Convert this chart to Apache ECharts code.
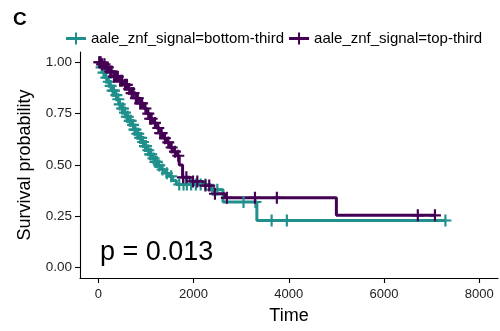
<!DOCTYPE html>
<html>
<head>
<meta charset="utf-8">
<script src="https://cdn.jsdelivr.net/npm/echarts@6/dist/echarts.min.js"></script>
<style>
html,body{margin:0;padding:0;background:#fff;}
#chart{width:500px;height:331px;}
</style>
</head>
<body>
<div id="chart"></div>
<script>
// ---- data ----
const seriesNames = ['aale_znf_signal=bottom-third', 'aale_znf_signal=top-third'];
const seriesColors = ['#21908C', '#440154'];

// bottom-third: time of each drop and survival after it
const tealTime = [0, 40, 90, 140, 190, 240, 290, 340, 390, 440, 490, 540, 590, 640, 700, 750, 800, 860, 910, 960, 1010, 1070, 1130, 1190, 1250, 1320, 1400, 1480, 1560, 1640, 2350, 2620, 3330];
const tealSurv = [1, 0.975, 0.95, 0.925, 0.905, 0.885, 0.862, 0.84, 0.82, 0.795, 0.775, 0.755, 0.735, 0.715, 0.695, 0.672, 0.652, 0.632, 0.612, 0.592, 0.572, 0.552, 0.532, 0.515, 0.498, 0.478, 0.46, 0.445, 0.425, 0.405, 0.38, 0.32, 0.23];
const tealEnd = 7290;
const tealCensor = [30, 70, 110, 170, 220, 260, 300, 330, 380, 420, 450, 500, 520, 560, 600, 620, 660, 680, 730, 760, 780, 820, 840, 880, 900, 940, 980, 1000, 1050, 1090, 1110, 1160, 1200, 1230, 1280, 1350, 1440, 1530, 1700, 1790, 1860, 1950, 2050, 2150, 2250, 2400, 2500, 3050, 3300, 3640, 3960, 7290];

// top-third
const purpleTime = [0, 60, 150, 240, 330, 420, 520, 620, 700, 790, 880, 960, 1020, 1080, 1150, 1220, 1290, 1360, 1430, 1500, 1570, 1640, 1700, 1770, 1930, 2200, 2410, 2660, 5000];
const purpleSurv = [1, 0.99, 0.975, 0.955, 0.93, 0.91, 0.89, 0.87, 0.85, 0.825, 0.8, 0.775, 0.75, 0.725, 0.705, 0.68, 0.655, 0.63, 0.61, 0.585, 0.565, 0.545, 0.5, 0.44, 0.42, 0.4, 0.36, 0.34, 0.255];
const purpleEnd = 7070;
const purpleCensor = [20, 50, 80, 130, 170, 200, 250, 280, 330, 370, 410, 460, 500, 560, 600, 650, 700, 740, 790, 830, 880, 920, 990, 1050, 1090, 1120, 1190, 1260, 1300, 1330, 1400, 1470, 1540, 1610, 1680, 1780, 1850, 1990, 2080, 2250, 2330, 2450, 2700, 3290, 3750, 6710, 7070];

const xTicks = [0, 2000, 4000, 6000, 8000];
const yTicks = [0, 0.25, 0.5, 0.75, 1];
const pValueText = 'p = 0.013';
const panelTag = 'C';

// ---- build series ----
function stepData(times, surv, end) {
  const d = times.map((t, i) => [t, surv[i]]);
  d.push([end, surv[surv.length - 1]]);
  return d;
}
function survAt(times, surv, t) {
  let s = surv[0];
  for (let i = 0; i < times.length; i++) { if (times[i] <= t) s = surv[i]; }
  return s;
}
function censorData(times, surv, cens) {
  return cens.map(t => [t, survAt(times, surv, t)]);
}
const plusPath = 'path://M4.1,0H5.9V4.1H10V5.9H5.9V10H4.1V5.9H0V4.1H4.1Z';
const legendIcon = 'path://M0,4.4H9V0H11V4.4H20V7.6H11V12H9V7.6H0Z';

const lines = [
  [tealTime, tealSurv, tealEnd, tealCensor],
  [purpleTime, purpleSurv, purpleEnd, purpleCensor]
];
const series = [];
lines.forEach((l, i) => {
  series.push({
    name: seriesNames[i], type: 'line', step: 'end', showSymbol: false,
    data: stepData(l[0], l[1], l[2]),
    lineStyle: { color: seriesColors[i], width: 3 },
    itemStyle: { color: seriesColors[i] },
    z: 2, silent: true
  });
});
lines.forEach((l, i) => {
  series.push({
    name: seriesNames[i], type: 'scatter', symbol: plusPath, symbolSize: 12,
    data: censorData(l[0], l[1], l[3]),
    itemStyle: { color: seriesColors[i], opacity: 1 },
    z: 3, silent: true
  });
});

const chart = echarts.init(document.getElementById('chart'), null, { renderer: 'canvas' });
chart.setOption({
  animation: false,
  backgroundColor: '#ffffff',
  textStyle: { fontFamily: 'Liberation Sans, Arial, sans-serif' },
  title: [
    { text: panelTag, left: 8, top: 5, textStyle: { fontSize: 19, fontWeight: 'bold', color: '#000', fontFamily: 'Liberation Sans' } },
    { text: pValueText, left: 95, top: 234, textStyle: { fontSize: 27, fontWeight: 'normal', color: '#000', fontFamily: 'Liberation Sans' } }
  ],
  legend: {
    data: seriesNames.map((n, i) => ({ name: n, icon: legendIcon, itemStyle: { color: seriesColors[i] } })),
    left: 61, top: 26, itemWidth: 20, itemHeight: 12, itemGap: 5,
    textStyle: { fontSize: 15, color: '#000', fontFamily: 'Liberation Sans' },
    selectedMode: false
  },
  grid: { left: 80, right: 2, top: 52, bottom: 53, containLabel: false },
  xAxis: {
    type: 'value', min: -384, max: 8394,
    name: 'Time', nameLocation: 'middle', nameGap: 29,
    nameTextStyle: { fontSize: 18, color: '#000', fontFamily: 'Liberation Sans' },
    axisLine: { show: true, onZero: false, lineStyle: { color: '#000', width: 1.1 } },
    axisTick: { show: true, length: 5, customValues: xTicks, lineStyle: { color: '#000', width: 1.1 } },
    axisLabel: { customValues: xTicks, margin: 10, fontSize: 13, color: '#222', fontFamily: 'Liberation Sans',
      formatter: v => String(v) },
    splitLine: { show: false }
  },
  yAxis: {
    type: 'value', min: -0.05, max: 1.05,
    name: 'Survival probability', nameLocation: 'middle', nameGap: 46,
    nameTextStyle: { fontSize: 18, color: '#000', fontFamily: 'Liberation Sans' },
    axisLine: { show: true, onZero: false, lineStyle: { color: '#000', width: 1.1 } },
    axisTick: { show: true, length: 5, customValues: yTicks, lineStyle: { color: '#000', width: 1.1 } },
    axisLabel: { customValues: yTicks, margin: 8, fontSize: 13.5, color: '#222', fontFamily: 'Liberation Sans',
      formatter: v => v.toFixed(2) },
    splitLine: { show: false }
  },
  series: series
});
</script>
</body>
</html>
